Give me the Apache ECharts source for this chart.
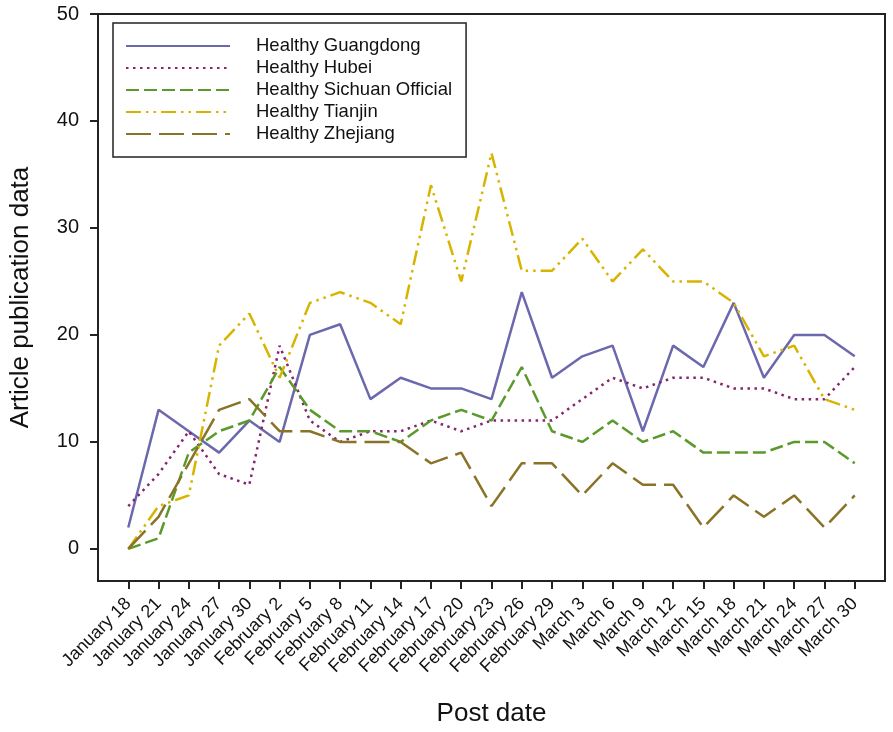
<!DOCTYPE html>
<html lang="en">
<head>
    <meta charset="UTF-8">
    <title>Article publication data</title>
    <script src="https://cdn.jsdelivr.net/npm/echarts@6/dist/echarts.min.js"></script>
    <style type="text/css">
        html, body { margin: 0; padding: 0; background: #fff; }
        #chart { width: 893px; height: 732px; }
    </style>
</head>
<body>
<div id="chart"></div>
<script type="text/javascript">
    // post dates, every 3 days
    var dates = ['January 18', 'January 21', 'January 24', 'January 27', 'January 30',
        'February 2', 'February 5', 'February 8', 'February 11', 'February 14',
        'February 17', 'February 20', 'February 23', 'February 26', 'February 29',
        'March 3', 'March 6', 'March 9', 'March 12', 'March 15', 'March 18',
        'March 21', 'March 24', 'March 27', 'March 30'];
    var yTicks = [0, 10, 20, 30, 40, 50];

    var guangdong = [2, 13, 11, 9, 12, 10, 20, 21, 14, 16, 15, 15, 14, 24, 16, 18, 19, 11, 19, 17, 23, 16, 20, 20, 18];
    var hubei     = [4, 7, 11, 7, 6, 19, 12, 10, 11, 11, 12, 11, 12, 12, 12, 14, 16, 15, 16, 16, 15, 15, 14, 14, 17];
    var sichuan   = [0, 1, 9, 11, 12, 17, 13, 11, 11, 10, 12, 13, 12, 17, 11, 10, 12, 10, 11, 9, 9, 9, 10, 10, 8];
    var tianjin   = [0, 4, 5, 19, 22, 16, 23, 24, 23, 21, 34, 25, 37, 26, 26, 29, 25, 28, 25, 25, 23, 18, 19, 14, 13];
    var zhejiang  = [0, 3, 8, 13, 14, 11, 11, 10, 10, 10, 8, 9, 4, 8, 8, 5, 8, 6, 6, 2, 5, 3, 5, 2, 5];

    var font = '"Liberation Sans", Arial, sans-serif';
    var dateIdx = dates.map(function (d, i) { return i; });

    // x positions are the date index, labels come from dates
    function pairs(values) {
        return values.map(function (v, i) { return [i, v]; });
    }

    function makeSeries(name, values, color, dash) {
        return {
            name: name,
            type: 'line',
            symbol: 'none',
            data: pairs(values),
            lineStyle: { color: color, width: 2.5, type: dash, cap: 'butt' },
            itemStyle: { color: color },
            animation: false
        };
    }

    var myChart = echarts.init(document.getElementById('chart'));
    var option = {
        backgroundColor: '#fff',
        grid: {
            left: 97, right: 8, top: 14, bottom: 151,
            show: true, borderColor: '#222', borderWidth: 2
        },
        legend: {
            orient: 'vertical',
            left: 113, top: 23,
            padding: [13, 14, 13, 12],
            itemWidth: 104, itemHeight: 14, itemGap: 2,
            borderColor: '#222', borderWidth: 1.5,
            itemStyle: { opacity: 0 },
            textStyle: { fontFamily: font, fontSize: 18.5, color: '#111', lineHeight: 20, padding: [0, 0, 0, 21] }
        },
        xAxis: {
            type: 'value',
            min: -1, max: 25, interval: 1,
            name: 'Post date',
            nameLocation: 'middle',
            nameGap: 120,
            nameTextStyle: { fontFamily: font, fontSize: 26, color: '#111' },
            axisLine: { onZero: false, lineStyle: { color: '#222', width: 2 } },
            axisTick: { show: true, length: 8, lineStyle: { color: '#222', width: 2 }, customValues: dateIdx },
            axisLabel: {
                rotate: 45, margin: 20,
                fontFamily: font, fontSize: 18, color: '#111',
                customValues: dateIdx,
                formatter: function (v) { return dates[v] || ''; }
            },
            splitLine: { show: false }
        },
        yAxis: {
            type: 'value',
            min: -3, max: 50,
            name: 'Article publication data',
            nameLocation: 'middle',
            nameGap: 64,
            nameTextStyle: { fontFamily: font, fontSize: 26, color: '#111' },
            axisLine: { show: true, onZero: false, lineStyle: { color: '#222', width: 2 } },
            axisTick: { show: true, length: 8, lineStyle: { color: '#222', width: 2 }, customValues: yTicks },
            axisLabel: { margin: 19, fontFamily: font, fontSize: 20, color: '#111', customValues: yTicks },
            splitLine: { show: false }
        },
        series: [
            makeSeries('Healthy Guangdong', guangdong, '#6b68ad', 'solid'),
            makeSeries('Healthy Hubei', hubei, '#86246e', [2.5, 4.5]),
            makeSeries('Healthy Sichuan Official', sichuan, '#5a9a2b', [13, 5]),
            makeSeries('Healthy Tianjin', tianjin, '#d8b400', [15, 5, 2.5, 5, 2.5, 5]),
            makeSeries('Healthy Zhejiang', zhejiang, '#8a7226', [25, 8])
        ]
    };
    myChart.setOption(option);
</script>
</body>
</html>
